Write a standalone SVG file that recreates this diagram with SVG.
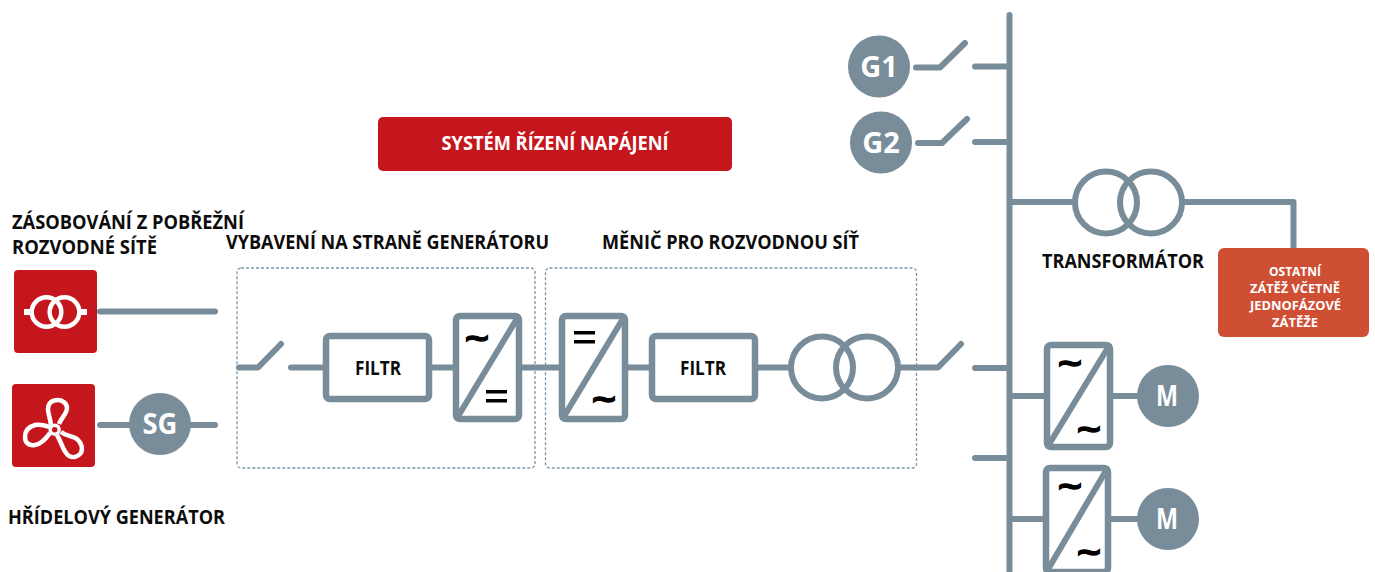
<svg xmlns="http://www.w3.org/2000/svg" width="1375" height="572" viewBox="0 0 1375 572">
<style>
.w{fill:none;stroke:#788c99;stroke-width:6;stroke-linecap:round;stroke-linejoin:round}
.b{fill:#fff;stroke:#788c99;stroke-width:6.500}
.d{fill:none;stroke:#7f95a3;stroke-width:1.300;stroke-dasharray:3 2}
.c{fill:#788c99}
.i{fill:none;stroke:#fff;stroke-width:4.500}
text{font-family:"Open Sans","Liberation Sans",sans-serif;font-weight:700;fill:#0c0c0c;font-size:19px}
.m{text-anchor:middle}
.l{fill:#fff;font-size:13px;text-anchor:middle}
.g{fill:#fff;font-size:29px;text-anchor:middle}
.s{fill:#000;stroke:#000;stroke-width:1.300;font-size:30px;text-anchor:middle}
.e{fill:#000}
</style>
<rect width="1375" height="572" fill="#fff"/>
<g id="connectors">
<path class="w" d="M100 311.500H215M100 425H215"/>
<path class="w" d="M239 367.500H258L281 344M291 367.500H326M429 367.500H456M519 367.500H562M625 367.500H652M755 367.500H790M899 367.500H938L961 344M975 368H1009"/>
<path class="w" d="M916 67.500H940L965 43M975 66.500H1009M918 143H942L967 119M975 142H1009M975 458H1009"/>
<path class="w" d="M1009.500 15V572M1009.500 202H1075M1183 202H1293.500V250"/>
<path class="w" d="M1012 396H1047M1110 396H1140M1012 519H1046M1108 519H1140"/>
</g>
<g id="panel-generator"><rect class="d" x="237" y="268" width="298" height="200" rx="4"/></g>
<g id="panel-grid"><rect class="d" x="545.500" y="268" width="371" height="200" rx="4"/></g>
<g id="power-control"><rect x="378" y="117" width="354" height="54" rx="5" fill="#c4161c"/><text x="555" y="150" class="m" style="fill:#fff" textLength="227" lengthAdjust="spacingAndGlyphs">SYSTÉM ŘÍZENÍ NAPÁJENÍ</text></g>
<g id="shore-supply">
<rect x="14" y="270" width="83" height="83" rx="4" fill="#c4161c"/>
<path fill="#fff" d="M24 309h7v6h-7zM80 309h7v6h-7z"/>
<circle class="i" cx="46.500" cy="312" r="14.800"/><circle class="i" cx="64.500" cy="312" r="14.800"/>
</g>
<g id="shaft-icon">
<rect x="12" y="384" width="83" height="83" rx="4" fill="#c4161c"/>
<circle class="i" cx="54.700" cy="429.700" r="4.500" style="stroke-width:3.500"/>
<path class="i" d="M51 425C50 417 48 414 48 409C48 403 52 400 58 400C63 400 67 404 67 408C67 414 61 418 59 424"/>
<path class="i" d="M50 427C44 425 40 424 35 425C28 427 25 432 25 437C25 443 29 446 35 445C42 444 46 438 50 433"/>
<path class="i" d="M61 432C66 436 72 436 77 439C82 443 83 449 81 453C78 457 73 458 69 456C63 452 62 443 57 435"/>
</g>
<g id="sg"><circle class="c" cx="160" cy="424" r="31"/><text x="160" y="434" class="g" textLength="35" lengthAdjust="spacingAndGlyphs">SG</text></g>
<g id="filter-1"><rect class="b" x="326" y="336" width="103" height="63" rx="4"/><text x="378" y="375" class="m" textLength="46" lengthAdjust="spacingAndGlyphs">FILTR</text></g>
<g id="conv-1"><rect class="b" x="456" y="316" width="63" height="103" rx="4"/><path class="w" d="M518 317L457 418"/><text x="477" y="348.500" class="s" textLength="24" lengthAdjust="spacingAndGlyphs">~</text><path class="e" d="M486 390h21v3.500h-21zM486 399h21v3.500h-21z"/></g>
<g id="conv-2"><rect class="b" x="562" y="316" width="63" height="103" rx="4"/><path class="w" d="M624 317L563 418"/><path class="e" d="M574 331h21v3.500h-21zM574 340h21v3.500h-21z"/><text x="604" y="410" class="s" textLength="24" lengthAdjust="spacingAndGlyphs">~</text></g>
<g id="filter-2"><rect class="b" x="652" y="336" width="103" height="63" rx="4"/><text x="703" y="375" class="m" textLength="46" lengthAdjust="spacingAndGlyphs">FILTR</text></g>
<g id="trafo-1"><circle class="w" cx="822" cy="367.500" r="31"/><circle class="w" cx="867" cy="367.500" r="31"/></g>
<g id="g1"><circle class="c" cx="879" cy="66.500" r="31"/><text x="879" y="77" class="g">G1</text></g>
<g id="g2"><circle class="c" cx="881" cy="142.500" r="31"/><text x="881" y="153" class="g">G2</text></g>
<g id="trafo-2"><circle class="w" cx="1106" cy="202.500" r="31"/><circle class="w" cx="1151" cy="202.500" r="31"/></g>
<g id="load"><rect x="1218" y="248" width="151" height="89" rx="6" fill="#cf4f35"/>
<text x="1295" y="276" class="l" textLength="52" lengthAdjust="spacingAndGlyphs">OSTATNÍ</text><text x="1295" y="293" class="l" textLength="90" lengthAdjust="spacingAndGlyphs">ZÁTĚŽ VČETNĚ</text><text x="1295.500" y="310" class="l" textLength="91" lengthAdjust="spacingAndGlyphs">JEDNOFÁZOVÉ</text><text x="1295" y="327" class="l" textLength="46" lengthAdjust="spacingAndGlyphs">ZÁTĚŽE</text></g>
<g id="conv-3"><rect class="b" x="1047" y="345" width="63" height="102" rx="4"/><path class="w" d="M1109 346L1048 446"/><text x="1070" y="374" class="s" textLength="24" lengthAdjust="spacingAndGlyphs">~</text><text x="1089" y="440" class="s" textLength="24" lengthAdjust="spacingAndGlyphs">~</text></g>
<g id="m1"><circle class="c" cx="1168" cy="396" r="31"/><text x="1167" y="406" class="g" textLength="22" lengthAdjust="spacingAndGlyphs">M</text></g>
<g id="conv-4"><rect class="b" x="1046" y="468" width="62" height="104" rx="4"/><path class="w" d="M1107 469L1047 571"/><text x="1070" y="497" class="s" textLength="24" lengthAdjust="spacingAndGlyphs">~</text><text x="1089" y="563" class="s" textLength="24" lengthAdjust="spacingAndGlyphs">~</text></g>
<g id="m2"><circle class="c" cx="1168" cy="519" r="31"/><text x="1167" y="529" class="g" textLength="22" lengthAdjust="spacingAndGlyphs">M</text></g>
<g id="labels">
<text x="12" y="229" textLength="232" lengthAdjust="spacingAndGlyphs">ZÁSOBOVÁNÍ Z POBŘEŽNÍ</text>
<text x="12" y="254" textLength="145" lengthAdjust="spacingAndGlyphs">ROZVODNÉ SÍTĚ</text>
<text x="226" y="249" textLength="323" lengthAdjust="spacingAndGlyphs">VYBAVENÍ NA STRANĚ GENERÁTORU</text>
<text x="602" y="249" textLength="257" lengthAdjust="spacingAndGlyphs">MĚNIČ PRO ROZVODNOU SÍŤ</text>
<text x="8" y="524" textLength="217" lengthAdjust="spacingAndGlyphs">HŘÍDELOVÝ GENERÁTOR</text>
<text x="1042" y="268" textLength="162" lengthAdjust="spacingAndGlyphs">TRANSFORMÁTOR</text>
</g>
</svg>
